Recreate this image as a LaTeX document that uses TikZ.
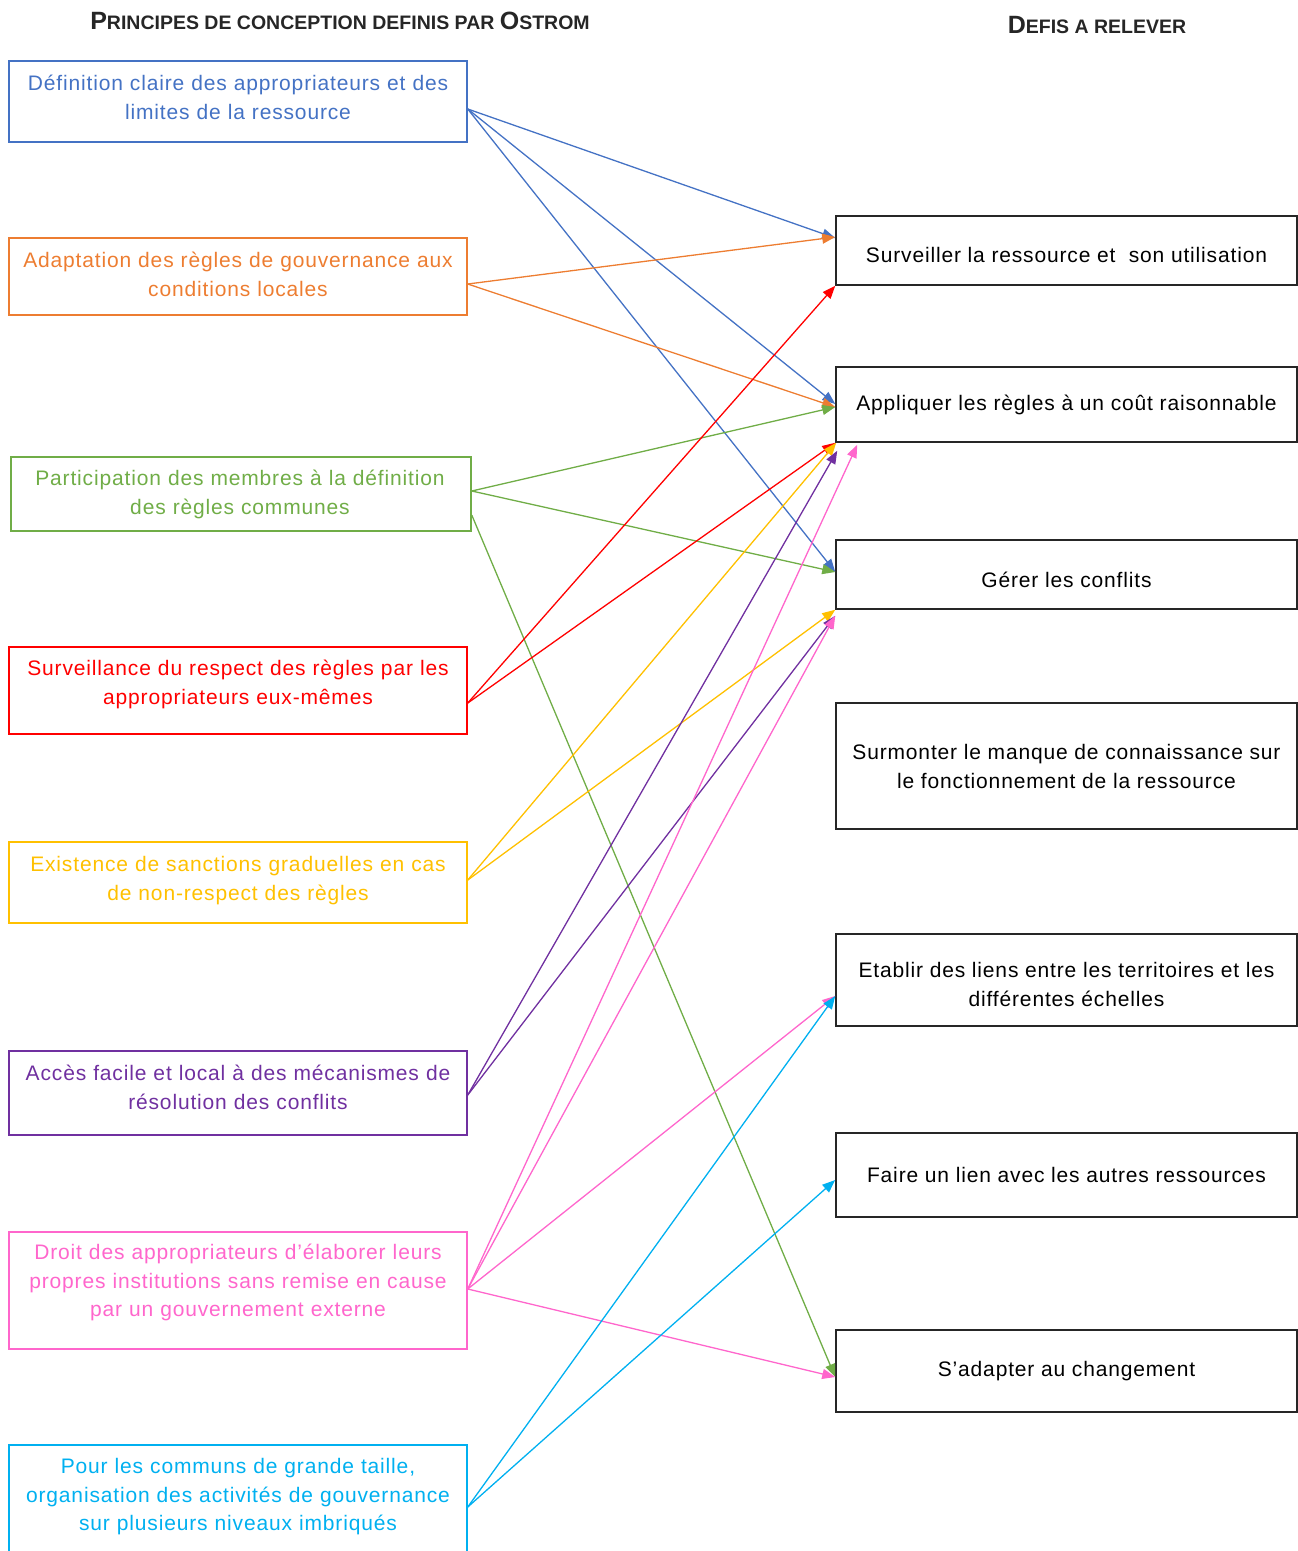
\documentclass[tikz,border=0pt]{standalone}
\usepackage{fontspec}
\setmainfont{Liberation Sans}[LetterSpace=4]
\newfontfamily\hdfont{Liberation Sans}
\usetikzlibrary{arrows.meta}
\definecolor{cBlue}{HTML}{4472C4}
\definecolor{cOrange}{HTML}{ED7D31}
\definecolor{cGreen}{HTML}{70AD47}
\definecolor{cRed}{HTML}{FF0000}
\definecolor{cYellow}{HTML}{FFC000}
\definecolor{cPurple}{HTML}{7030A0}
\definecolor{cPink}{HTML}{FF66CC}
\definecolor{cCyan}{HTML}{00B0F0}
% fake small capitals for the headings
\newcommand\bigc[1]{{\fontsize{25}{25}\selectfont #1}}
\newcommand\smc[1]{{\fontsize{19.5}{25}\selectfont #1}}
% invisible strut that lowers a single centred line of text
\newcommand\dn[1]{\rule{0pt}{#1pt}}
\begin{document}
\begin{tikzpicture}[x=1pt,y=-1pt,
  lbox/.style={draw=#1, line width=1.5pt, inner sep=0pt, minimum width=458pt},
  ltext/.style={text=#1, anchor=base, align=center, inner sep=0pt, text width=450pt,
    font=\fontsize{21}{28.5}\selectfont},
  rbox/.style={draw=black!85, line width=1.5pt, inner sep=0pt, align=center,
    minimum width=461pt, font=\fontsize{21}{29}\selectfont},
  head/.style={inner sep=0pt, anchor=base, font=\hdfont\bfseries, text=black!85},
  link/.style={draw=#1, line width=1.3pt, -{Triangle[length=13pt,width=10pt]}},
]
\useasboundingbox (0,0) rectangle (1298,1551);

% column headings
\node[head] (h1) at (340,29) {\bigc{P}\smc{RINCIPES DE CONCEPTION DEFINIS PAR }\bigc{O}\smc{STROM}};
\node[head] (h2) at (1097,33) {\bigc{D}\smc{EFIS A RELEVER}};

% design principles (left column)
\node[lbox=cBlue,   minimum height=81pt]  (l1) at (238,101.5) {};
\node[lbox=cOrange, minimum height=77pt]  (l2) at (238,276.5) {};
\node[lbox=cGreen,  minimum height=74pt, minimum width=460pt] (l3) at (241,494) {};
\node[lbox=cRed,    minimum height=87pt]  (l4) at (238,690.5) {};
\node[lbox=cYellow, minimum height=81pt]  (l5) at (238,882.5) {};
\node[lbox=cPurple, minimum height=84pt]  (l6) at (238,1093) {};
\node[lbox=cPink,   minimum height=117pt] (l7) at (238,1290.5) {};
\node[lbox=cCyan,   minimum height=135pt] (l8) at (238,1512.5) {};

\node[ltext=cBlue]   (t1) at (238,90.5)   {Définition claire des appropriateurs et des\\limites de la ressource};
\node[ltext=cOrange] (t2) at (238,267.5)  {Adaptation des règles de gouvernance aux\\conditions locales};
\node[ltext=cGreen]  (t3) at (240,485.5)  {Participation des membres à la définition\\des règles communes};
\node[ltext=cRed]    (t4) at (238,675.5)  {Surveillance du respect des règles par les\\appropriateurs eux-mêmes};
\node[ltext=cYellow] (t5) at (238,871.5)  {Existence de sanctions graduelles en cas\\de non-respect des règles};
\node[ltext=cPurple] (t6) at (238,1080.5) {Accès facile et local à des mécanismes de\\résolution des conflits};
\node[ltext=cPink]   (t7) at (238,1259.5) {Droit des appropriateurs d’élaborer leurs\\propres institutions sans remise en cause\\par un gouvernement externe};
\node[ltext=cCyan]   (t8) at (238,1473.5) {Pour les communs de grande taille,\\organisation des activités de gouvernance\\sur plusieurs niveaux imbriqués};

% challenges (right column)
\node[rbox, minimum height=69pt]  (rA) at (1066.5,250.5) {\dn{24}Surveiller la ressource et\ \ son utilisation};
\node[rbox, minimum height=75pt]  (rB) at (1066.5,404.5) {Appliquer les règles à un coût raisonnable};
\node[rbox, minimum height=69pt]  (rC) at (1066.5,574.5) {\dn{26}Gérer les conflits};
\node[rbox, minimum height=126pt] (rD) at (1066.5,766)   {Surmonter le manque de connaissance sur\\le fonctionnement de la ressource};
\node[rbox, minimum height=92pt]  (rE) at (1066.5,980)   {\dn{24}Etablir des liens entre les territoires et les\\différentes échelles};
\node[rbox, minimum height=84pt]  (rF) at (1066.5,1175)  {Faire un lien avec les autres ressources};
\node[rbox, minimum height=82pt]  (rG) at (1066.5,1371)  {S’adapter au changement};

% links
\draw[link=cBlue] (l1.east |- 0,109) -- (rA.west |- 0,238);
\draw[link=cBlue] (l1.east |- 0,109) -- (rB.west |- 0,404);
\draw[link=cBlue] (l1.east |- 0,109) -- (rC.west |- 0,572);

\draw[link=cOrange] (l2.east |- 0,284) -- (rA.west |- 0,237);
\draw[link=cOrange] (l2.east |- 0,284) -- (rB.west |- 0,407);

\draw[link=cGreen] (l3.east |- 0,491) -- (rB.west |- 0,407);
\draw[link=cGreen] (l3.east |- 0,491) -- (rC.west |- 0,572);
\draw[link=cGreen] (l3.east |- 0,515) -- (rG.west |- 0,1377);

\draw[link=cRed] (l4.east |- 0,703) -- (rA.south west);
\draw[link=cRed] (l4.east |- 0,703) -- (rB.south west);

\draw[link=cYellow] (l5.east |- 0,880) -- ([xshift=1pt]rB.south west);
\draw[link=cYellow] (l5.east |- 0,880) -- (rC.south west);

\draw[link=cPurple] (l6.east |- 0,1095) -- ([xshift=2pt,yshift=-8pt]rB.south west);
\draw[link=cPurple] (l6.east |- 0,1095) -- ([yshift=-6pt]rC.south west);

\draw[link=cPink] (l7.east |- 0,1289) -- ([xshift=22pt,yshift=-2pt]rB.south west);
\draw[link=cPink] (l7.east |- 0,1289) -- ([yshift=-6pt]rC.south west);
\draw[link=cPink] (l7.east |- 0,1289) -- (rE.west |- 0,996);
\draw[link=cPink] (l7.east |- 0,1289) -- (rG.west |- 0,1377);

\draw[link=cCyan] (l8.east |- 0,1507) -- (rE.west |- 0,996);
\draw[link=cCyan] (l8.east |- 0,1507) -- (rF.west |- 0,1180);
\end{tikzpicture}
\end{document}
